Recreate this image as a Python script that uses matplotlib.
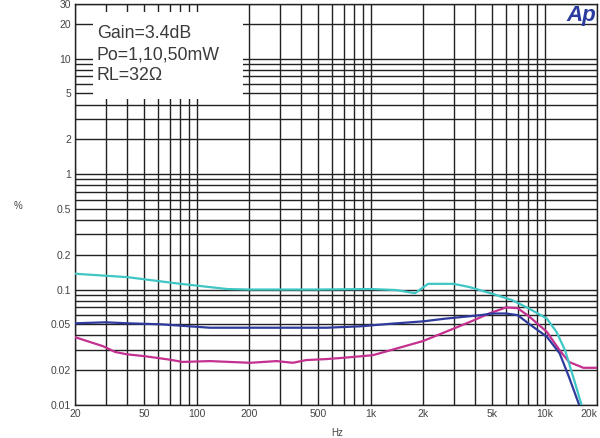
import matplotlib
matplotlib.use("Agg")
import matplotlib.pyplot as plt
from matplotlib.patches import Rectangle
import numpy as np

plt.rcParams['font.family'] = ['Liberation Sans', 'DejaVu Sans']

# ---- data ----
cyan_f = [20, 40, 77, 150, 200, 500, 1000, 1400, 1800, 2140, 3000, 3700, 5000, 6500, 8200, 10300, 11700, 13100, 14600, 16300]
cyan_v = [0.137, 0.128, 0.113, 0.101, 0.100, 0.100, 0.101, 0.099, 0.093, 0.112, 0.112, 0.105, 0.092, 0.081, 0.068, 0.056, 0.043, 0.0298, 0.0175, 0.0100]

blue_f = [20, 30, 40, 62, 119, 203, 357, 560, 870, 1300, 2000, 2700, 4300, 5000, 6000, 7000, 8200, 10300, 12200, 13800, 15800]
blue_v = [0.051, 0.052, 0.051, 0.050, 0.0467, 0.0467, 0.0467, 0.0467, 0.048, 0.0505, 0.053, 0.056, 0.060, 0.062, 0.062, 0.060, 0.050, 0.039, 0.028, 0.0175, 0.0100]

mag_f = [20, 24.4, 29, 34, 39.6, 51, 70, 83, 119, 203, 288, 357, 427, 560, 690, 870, 1030, 1300, 2000, 2700, 3900, 4800, 6000, 7000, 8200, 10300, 12200, 13800, 16700, 20000]
mag_v = [0.0387, 0.0351, 0.0323, 0.0288, 0.0275, 0.0264, 0.0247, 0.0236, 0.024, 0.0232, 0.024, 0.0232, 0.0245, 0.025, 0.0256, 0.0264, 0.027, 0.0298, 0.0358, 0.043, 0.054, 0.062, 0.070, 0.069, 0.058, 0.043, 0.0298, 0.0236, 0.021, 0.021]

x_ticks = [20, 50, 100, 200, 500, 1000, 2000, 5000, 10000, 20000]
x_labels = ['20', '50', '100', '200', '500', '1k', '2k', '5k', '10k', '20k']
y_ticks = [0.01, 0.02, 0.05, 0.1, 0.2, 0.5, 1, 2, 5, 10, 20, 30]
y_labels = ['0.01', '0.02', '0.05', '0.1', '0.2', '0.5', '1', '2', '5', '10', '20', '30']
info_lines = ['Gain=3.4dB', 'Po=1,10,50mW', 'RL=32\u03a9']

# ---- figure ----
W, H = 600, 438
fig = plt.figure(figsize=(W / 100, H / 100), dpi=100)
ax = fig.add_axes([75 / W, 1 - 405 / H, (597 - 75) / W, (405 - 3.5) / H])
ax.set_xscale('log')
ax.set_yscale('log')
ax.set_xlim(20, 20000)
ax.set_ylim(0.01, 30)

ax.set_xticks(x_ticks)
ax.set_xticklabels(x_labels)
ax.set_yticks(y_ticks)
ax.set_yticklabels(y_labels)
ax.tick_params(which='both', length=0, labelsize=7.5, colors='#444444', pad=3)
ax.xaxis.get_ticklabels()[-1].set_horizontalalignment('right')

ax.grid(which='both', color='#222222', linewidth=1.0)
ax.set_axisbelow(True)
for s in ax.spines.values():
    s.set_color('#222222')
    s.set_linewidth(1.0)

# white box behind the text
ax.add_patch(Rectangle((25.4, 4.5), 185 - 25.4, 25.5 - 4.5, facecolor='white',
                       edgecolor='none', zorder=1))

ax.plot(mag_f, mag_v, color='#c4308f', lw=1.6, zorder=3)
ax.plot(blue_f, blue_v, color='#2f3b9c', lw=1.6, zorder=3)
ax.plot(cyan_f, cyan_v, color='#3fc6c4', lw=1.6, zorder=3)

ys = [34, 55, 75]
for t, y in zip(info_lines, ys):
    fig.text(97 / W, 1 - y / H, t, fontsize=12.8, color='#3a3a3a', va='center', ha='left')

fig.text(581 / W, 1 - 16 / H, 'Ap', fontsize=16, fontweight='bold', fontstyle='italic',
         color='#2a3a9e', ha='center', va='center')

fig.text(18 / W, 1 - 206 / H, '%', fontsize=7, color='#444444', ha='center', va='center')
fig.text(337 / W, 1 - 433 / H, 'Hz', fontsize=7, color='#444444', ha='center', va='center')

fig.savefig('out.png', dpi=100)
